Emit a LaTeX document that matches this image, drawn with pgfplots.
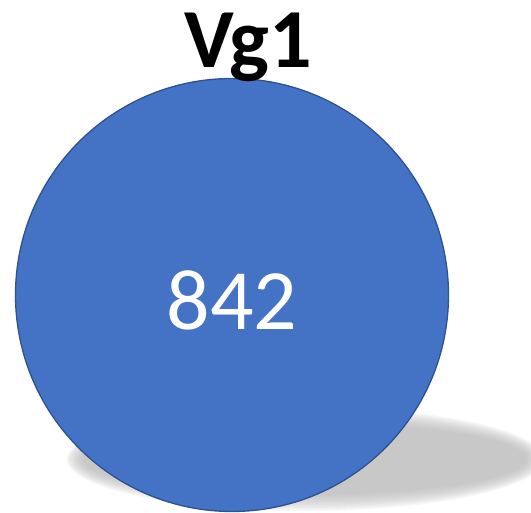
\documentclass[border=0pt]{standalone}
\usepackage{pgfplots}
\pgfplotsset{compat=1.18}
\usepackage{fontspec}
\setmainfont{Carlito}
\definecolor{venn}{HTML}{4472C4}
\definecolor{vennedge}{HTML}{2F528F}
\definecolor{shad}{HTML}{B3B3B3}
\tikzset{shadowmark/.style={draw opacity=0, line width=0pt, fill=shad, fill opacity=0.1}}
\pgfplotsset{shadowlayer/.style={only marks, mark=*}}
\begin{document}
\begin{tikzpicture}
\begin{axis}[
  width=531pt, height=513pt, scale only axis,
  xmin=0, xmax=531, ymin=0, ymax=513,
  axis lines=none, clip=true, clip marker paths=true,
]
% shadow layers: ellipse semi-axes a x b centred at (305,54)
\addplot[shadowlayer, mark size=52pt, mark options={shadowmark, xscale=4.58}] coordinates {(305,54)};
\addplot[shadowlayer, mark size=50.5pt, mark options={shadowmark, xscale=4.69}] coordinates {(305,54)};
\addplot[shadowlayer, mark size=49pt, mark options={shadowmark, xscale=4.81}] coordinates {(305,54)};
\addplot[shadowlayer, mark size=47.5pt, mark options={shadowmark, xscale=4.93}] coordinates {(305,54)};
\addplot[shadowlayer, mark size=46pt, mark options={shadowmark, xscale=5.05}] coordinates {(305,54)};
\addplot[shadowlayer, mark size=44.5pt, mark options={shadowmark, xscale=5.19}] coordinates {(305,54)};
\addplot[shadowlayer, mark size=43pt, mark options={shadowmark, xscale=5.33}] coordinates {(305,54)};
\addplot[shadowlayer, mark size=41.5pt, mark options={shadowmark, xscale=5.49}] coordinates {(305,54)};
\addplot[shadowlayer, mark size=40pt, mark options={shadowmark, xscale=5.65}] coordinates {(305,54)};
\addplot[shadowlayer, mark size=38.5pt, mark options={shadowmark, xscale=5.83}] coordinates {(305,54)};
\addplot[shadowlayer, mark size=37pt, mark options={shadowmark, xscale=6.03}] coordinates {(305,54)};
\addplot[shadowlayer, mark size=35.5pt, mark options={shadowmark, xscale=6.24}] coordinates {(305,54)};
% the set circle
\addplot[only marks, mark=*, mark size=216.5pt, mark options={draw=vennedge, fill=venn, line width=1.3pt}] coordinates {(232,218)};
\node[anchor=base, text=white, font=\fontsize{86}{90}\selectfont] at (axis cs:232,183) {842};
\node[anchor=base, text=black, font=\bfseries\fontsize{84}{88}\selectfont] at (axis cs:248,445) {Vg1};
\end{axis}
\pgfresetboundingbox
\useasboundingbox (current axis.south west) rectangle (current axis.north east);
\end{tikzpicture}
\end{document}
